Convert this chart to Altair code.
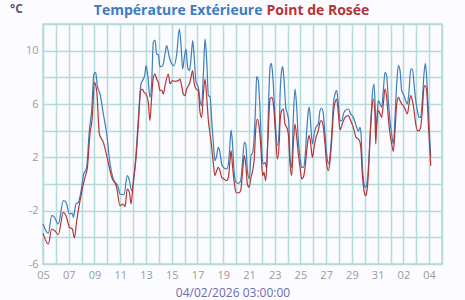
import altair as alt
import pandas as pd

# Température Extérieure (days after 05/01/2026 00:00, °C)
t_days = [0.0, 0.415, 0.674, 0.855, 1.19, 1.58, 1.79, 2.05, 2.28, 2.36, 2.56, 2.75, 3.0, 3.13, 3.39,
          3.60, 3.78, 3.96, 4.09, 4.22, 4.43, 4.69, 4.95, 5.21, 5.46, 5.85,
          5.98, 6.29, 6.55, 6.71, 6.89, 7.15, 7.33, 7.48, 7.61, 7.80, 7.92, 8.0, 8.13, 8.31, 8.44,
          8.57, 8.70, 8.83, 8.96, 9.09, 9.30, 9.48, 9.61, 9.79, 10.0, 10.18, 10.39, 10.59, 10.72,
          10.85, 10.98, 11.11, 11.24, 11.37, 11.50, 11.63, 11.73, 11.89, 12.07,
          12.20, 12.33, 12.46, 12.59, 12.72, 12.85, 12.98, 13.11, 13.24, 13.36, 13.49, 13.62, 13.75,
          13.88, 14.01, 14.27, 14.40, 14.53, 14.61, 14.71, 14.84, 14.99, 15.18, 15.36, 15.49, 15.64,
          15.75, 15.88, 16.03, 16.16, 16.29, 16.42, 16.52, 16.60, 16.73, 16.86, 17.02, 17.12, 17.25,
          17.38, 17.51, 17.64, 17.74, 17.84, 18.03, 18.21, 18.36,
          18.42, 18.54, 18.62, 18.73, 18.86, 18.99, 19.09, 19.19, 19.32, 19.45, 19.58, 19.71, 19.84,
          19.97, 20.10, 20.23, 20.36, 20.49, 20.62, 20.69, 20.80, 20.93, 21.06, 21.21, 21.39, 21.52,
          21.65, 21.78, 21.91, 22.04, 22.17, 22.30, 22.43, 22.56, 22.69, 22.82, 22.95, 23.08, 23.21,
          23.34, 23.47, 23.72, 23.91, 24.11, 24.37, 24.50,
          24.63, 24.71, 24.81, 24.94, 25.07, 25.20, 25.33, 25.46, 25.59, 25.72, 25.80, 25.87, 25.98,
          26.06, 26.19, 26.31, 26.44, 26.57, 26.70, 26.83, 26.96, 27.09, 27.22, 27.35, 27.48, 27.61,
          27.74, 27.87, 28.0, 28.13, 28.31, 28.44, 28.57, 28.70, 28.83, 28.96, 29.09, 29.21, 29.34,
          29.47, 29.60, 29.71, 29.81, 29.94, 30.125]
t_vals = [-3.0, -3.7, -2.375, -2.45, -3.0, -1.25, -1.375, -2.25, -2.2, -2.5, -1.5, -1.375, -0.25, 0.625, 1.25,
          4.0, 5.5, 8.25, 8.375, 7.375, 6.75, 5.25, 3.75, 1.5, 0.375, -0.25,
          -0.75, -0.8, 0.625, 0.25, -0.5, 1.25, 3.75, 6.0, 7.5, 7.875, 8.25, 8.875, 8.25, 6.5, 7.5,
          10.625, 10.8, 9.75, 9.7, 8.8, 8.875, 9.75, 10.375, 9.625, 9.0, 8.875, 9.75, 11.625, 10.5,
          8.625, 9.5, 10.125, 8.75, 8.5, 9.375, 10.75, 9.75, 7.625, 7.25,
          6.25, 5.875, 8.25, 10.875, 9.25, 6.625, 6.55, 4.75, 3.0, 1.75, 2.125, 2.75, 2.375,
          1.5, 1.25, 1.125, 1.5, 3.0, 4.05, 3.25, 1.0, 0.125, 0.05, 0.25, 1.5, 3.125,
          3.0, 1.0, 0.375, 2.125, 2.375, 3.75, 6.0, 8.05, 7.75, 5.5, 2.125, 1.5, 1.625,
          1.125, 5.5, 8.75, 9.05, 8.25, 5.0, 2.875, 4.25,
          6.75, 8.5, 8.8, 7.75, 5.75, 5.25, 4.75, 2.0, 1.25, 5.0, 7.125, 5.75, 3.25,
          2.0, 1.25, 1.25, 2.0, 4.0, 5.5, 5.75, 4.5, 3.0, 3.75, 4.25, 4.5, 5.5,
          5.7, 5.25, 3.75, 2.25, 1.5, 2.125, 3.75, 6.0, 6.75, 7.0, 6.0, 4.75, 4.75,
          5.25, 5.5, 5.625, 5.25, 5.0, 4.25, 3.95,
          4.25, 3.75, 1.5, 0.0, -0.25, 0.25, 2.0, 4.5, 6.75, 7.5, 6.0, 4.0, 5.5,
          6.25, 6.0, 5.75, 7.0, 8.375, 8.125, 6.25, 4.75, 3.75, 3.0, 5.0, 7.5, 8.875,
          8.5, 7.0, 6.75, 6.375, 6.0, 7.0, 8.625, 8.625, 7.5, 6.25, 5.5, 5.0, 5.0,
          6.25, 8.25, 9.05, 8.0, 5.5, 2.0]

# Point de Rosée
d_days = [0.0, 0.415, 0.674, 0.92, 1.19, 1.58, 1.79, 2.05, 2.28, 2.44, 2.62, 3.0, 3.26, 3.45, 3.65,
          3.83, 3.99, 4.17, 4.38, 4.69, 4.95, 5.34, 5.72,
          5.98, 6.24, 6.37, 6.55, 6.71, 6.84, 7.02, 7.23, 7.41, 7.59, 7.72, 7.85, 8.0, 8.18, 8.31,
          8.44, 8.57, 8.70, 8.83, 8.96, 9.09, 9.22, 9.35, 9.48, 9.74, 9.87, 10.07, 10.26, 10.51,
          10.64, 10.77, 10.90, 11.03, 11.16, 11.37, 11.47, 11.63, 11.73, 11.89, 12.07,
          12.20, 12.33, 12.46, 12.59, 12.72, 12.85, 12.98, 13.11, 13.24, 13.36, 13.49, 13.62, 13.75,
          13.88, 14.06, 14.27, 14.40, 14.53, 14.61, 14.71, 14.84, 14.99, 15.18, 15.36, 15.49, 15.64,
          15.75, 15.88, 16.01, 16.16, 16.29, 16.42, 16.52, 16.65, 16.78, 16.91, 17.07, 17.17, 17.30,
          17.46, 17.64, 17.77, 17.90, 18.05, 18.21, 18.36,
          18.42, 18.54, 18.67, 18.80, 18.93, 19.06, 19.19, 19.32, 19.45, 19.58, 19.71, 19.84, 19.97,
          20.10, 20.23, 20.36, 20.49, 20.62, 20.69, 20.80, 20.93, 21.06, 21.21, 21.39, 21.52, 21.65,
          21.78, 21.91, 22.04, 22.17, 22.30, 22.43, 22.56, 22.69, 22.82, 22.95, 23.08, 23.21, 23.34,
          23.47, 23.72, 23.91, 24.11, 24.32, 24.50,
          24.63, 24.71, 24.81, 24.94, 25.05, 25.15, 25.28, 25.41, 25.54, 25.67, 25.80, 25.85, 25.93,
          26.06, 26.19, 26.31, 26.44, 26.57, 26.70, 26.83, 26.96, 27.09, 27.22, 27.35, 27.48, 27.61,
          27.74, 27.87, 28.0, 28.13, 28.31, 28.44, 28.57, 28.70, 28.83, 28.96, 29.09, 29.21, 29.34,
          29.47, 29.60, 29.71, 29.81, 29.94, 30.125]
d_vals = [-3.7, -4.5, -3.375, -3.5, -3.8, -2.125, -2.375, -3.25, -3.375, -4.05, -2.75, -0.625, 0.5, 1.25, 3.75,
          5.0, 7.625, 7.0, 3.75, 3.125, 2.125, 0.5, -0.25,
          -1.625, -1.5, -1.7, -0.375, -0.625, -1.5, 0.25, 2.0, 4.5, 7.0, 7.125, 6.875, 6.75, 6.125, 4.75,
          6.5, 8.0, 8.25, 7.875, 7.625, 7.0, 7.05, 6.75, 7.375, 8.25, 7.5, 7.75, 7.7, 7.75,
          7.875, 7.375, 6.75, 6.625, 7.125, 7.5, 7.875, 8.5, 7.625, 7.125, 7.0,
          5.375, 5.0, 6.75, 7.875, 6.5, 4.75, 3.75, 2.75, 1.5, 0.625, 1.0, 1.25, 1.0,
          0.5, 0.375, 0.25, 0.5, 1.75, 2.5, 1.5, 0.25, -0.625, -0.675, -0.5, 0.75, 2.125,
          1.5, 0.0, -0.25, 0.5, 1.0, 2.0, 4.0, 4.875, 4.375, 3.0, 0.625, 0.875, 0.25,
          3.0, 6.375, 6.5, 6.0, 4.0, 1.875, 3.25,
          4.75, 5.5, 5.625, 4.5, 4.25, 3.75, 1.5, 0.625, 3.0, 4.5, 3.5, 2.25, 1.25,
          0.375, 0.5, 1.25, 2.5, 3.5, 3.625, 3.0, 2.0, 2.75, 3.5, 4.0, 4.625, 4.75,
          4.25, 3.0, 1.5, 1.0, 1.75, 3.25, 5.25, 6.125, 6.375, 5.25, 4.05, 4.375, 4.75,
          5.0, 5.125, 4.75, 4.25, 3.5, 3.375,
          3.125, 2.5, 0.75, -0.5, -0.875, -0.625, 0.75, 3.5, 5.5, 6.375, 5.0, 3.0, 4.5,
          5.5, 5.25, 5.0, 6.0, 7.125, 6.5, 5.0, 3.75, 3.0, 2.45, 4.0, 6.0, 6.5,
          6.25, 6.0, 5.875, 5.625, 5.25, 6.0, 6.625, 6.25, 5.5, 4.5, 4.0, 4.0, 4.25,
          5.5, 7.25, 7.375, 7.0, 4.5, 1.375]

series_names = ["Température Extérieure", "Point de Rosée"]
series_colors = ["#3d7dbd", "#b33636"]
y_ticks = [-6, -4, -2, 0, 2, 4, 6, 8, 10, 12]
x_title = "04/02/2026 03:00:00"

start = pd.Timestamp("2026-01-05")
df = pd.concat([
    pd.DataFrame({"time": start + pd.to_timedelta(t_days, unit="D"), "value": t_vals,
                  "series": series_names[0]}),
    pd.DataFrame({"time": start + pd.to_timedelta(d_days, unit="D"), "value": d_vals,
                  "series": series_names[1]}),
])

grid_col = "#b3dbd8"
label_col = "#9a9a9a"
font = "Open Sans"

lines = alt.Chart(df).mark_line(strokeWidth=1.2, interpolate="monotone").encode(
    x=alt.X("time:T",
            scale=alt.Scale(domain=[alt.DateTime(year=2026, month=1, date=5),
                                    alt.DateTime(year=2026, month=2, date=5)]),
            axis=alt.Axis(title=x_title, tickCount=alt.TimeIntervalStep(interval="day", step=1),
                          labelExpr="round((datum.value - datetime(2026,0,5))/86400000) % 2 == 0 ? timeFormat(datum.value, '%d') : ''",
                          grid=True, gridColor=grid_col, gridWidth=1.5, ticks=False, domain=False,
                          labelColor=label_col, labelFont=font, labelFontSize=11, labelPadding=5,
                          labelFlush=False, labelOverlap=False,
                          titleColor="#6c6cab", titleFont=font, titleFontSize=12, titleFontWeight="normal",
                          titleX=189.5, titleY=28.5, titleBaseline="middle", titleAnchor="middle", titleAlign="center")),
    y=alt.Y("value:Q", scale=alt.Scale(domain=[-6, 12], nice=False, zero=False),
            axis=alt.Axis(title=None, values=y_ticks,
                          labelExpr="(datum.value + 6) % 4 == 0 ? '' + datum.value : ''",
                          grid=True, gridColor=grid_col, gridWidth=1.5, ticks=False, domain=False,
                          labelColor=label_col, labelFont=font, labelFontSize=11, labelPadding=5)),
    color=alt.Color("series:N", scale=alt.Scale(domain=series_names, range=series_colors), legend=None),
)

t1 = alt.Chart(pd.DataFrame({"label": [series_names[0]]})).mark_text(
    align="right", baseline="middle", font=font, fontSize=14, fontWeight="bold", color=series_colors[0]
).encode(text="label:N", x=alt.value(219.5), y=alt.value(-13.5))
t2 = alt.Chart(pd.DataFrame({"label": [series_names[1]]})).mark_text(
    align="left", baseline="middle", font=font, fontSize=14, fontWeight="bold", color=series_colors[1]
).encode(text="label:N", x=alt.value(223.5), y=alt.value(-13.5))
unit = alt.Chart(pd.DataFrame({"label": ["°C"]})).mark_text(
    align="left", baseline="middle", font=font, fontSize=12, fontWeight="bold", color="#55557f"
).encode(text="label:N", x=alt.value(-33), y=alt.value(-15))

chart = alt.layer(lines, t1, t2, unit).properties(
    width=399, height=240,
    autosize=alt.AutoSizeParams(type="none"),
    padding={"left": 43, "top": 24, "right": 23, "bottom": 36},
    background="#fcfbff",
).configure_view(stroke=grid_col, strokeWidth=1.5)

chart.save("out.html", embed_options={"renderer": "svg", "actions": False})
